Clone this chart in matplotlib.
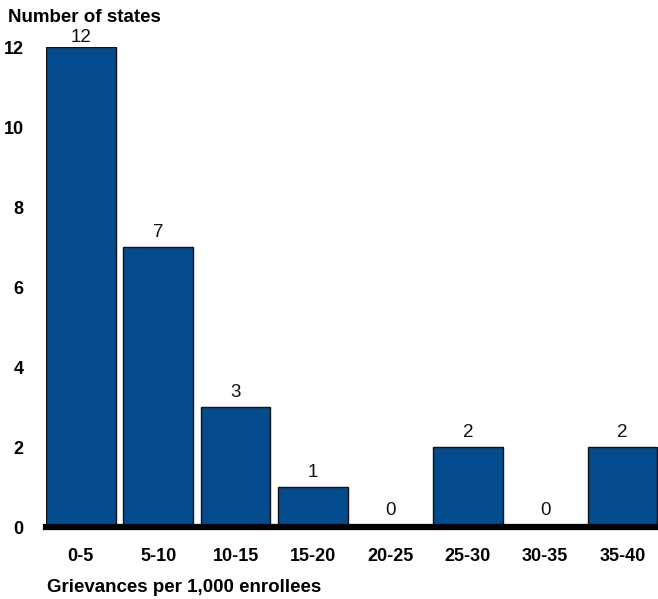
import matplotlib
matplotlib.use("Agg")
import matplotlib.pyplot as plt

categories = ["0-5", "5-10", "10-15", "15-20", "20-25", "25-30", "30-35", "35-40"]
values = [12, 7, 3, 1, 0, 2, 0, 2]
yticks = [0, 2, 4, 6, 8, 10, 12]

plt.rcParams['font.family'] = ['Liberation Sans', 'DejaVu Sans']

fig = plt.figure(figsize=(6.58, 5.99), dpi=100)
ax = fig.add_axes([46/658, 72/599, 612/658, 480/599])

x = list(range(len(categories)))
ax.bar(x, values, width=0.9, color="#044c8e", edgecolor="#111111", linewidth=1.0, zorder=2)
for xi, v in zip(x, values):
    off = 6 if v == 0 else (1 if v == max(values) else 4)
    ax.annotate(str(v), (xi, v), xytext=(0, off), textcoords="offset points",
                ha="center", va="bottom", fontsize=13.5, color="#111111", annotation_clip=False)

ax.set_xlim(-0.45, 7.457)
ax.set_ylim(0, 12)
ax.set_yticks(yticks)
ax.set_yticklabels([str(t) for t in yticks], fontsize=13, fontweight="bold")
ax.set_xticks(x)
ax.set_xticklabels(categories, fontsize=13, fontweight="bold")
ax.tick_params(axis="y", length=0, pad=16)
ax.tick_params(axis="x", length=0, pad=15)
for s in ax.spines.values():
    s.set_visible(False)
ax.axhline(0, color="black", linewidth=4.5, zorder=3, clip_on=False)

fig.text(8/658, 1 - 17/599, "Number of states", fontsize=13.5, fontweight="bold", va="center", ha="left")
fig.text(47/658, 1 - 588/599, "Grievances per 1,000 enrollees", fontsize=13.5, fontweight="bold", va="center", ha="left")

fig.savefig("out.png", dpi=100)
